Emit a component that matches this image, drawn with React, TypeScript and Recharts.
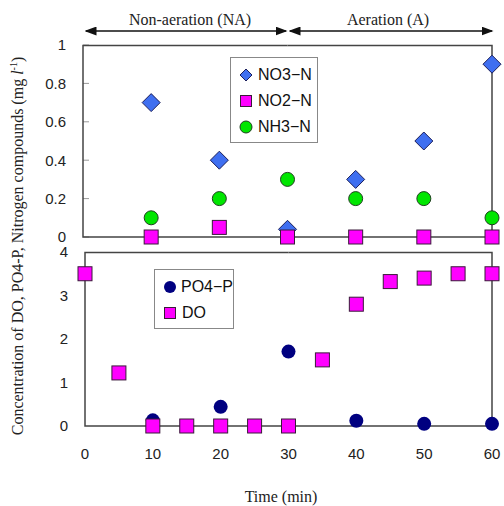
import { ScatterChart, Scatter, XAxis, YAxis } from "recharts"

const times = [10, 20, 30, 40, 50, 60]
const no3 = [0.7, 0.4, 0.04, 0.3, 0.5, 0.9]
const no2 = [0, 0.05, 0, 0, 0, 0]
const nh3 = [0.1, 0.2, 0.3, 0.2, 0.2, 0.1]
const po4 = [0.13, 0.44, 1.71, 0.12, 0.05, 0.05]
const doTimes = [0, 5, 10, 15, 20, 25, 30, 35, 40, 45, 50, 55, 60]
const doVals = [3.5, 1.22, 0, 0, 0, 0, 0, 1.52, 2.8, 3.32, 3.4, 3.5, 3.5]

const xTicks = [0, 10, 20, 30, 40, 50, 60]
const topTicks = [0, 0.2, 0.4, 0.6, 0.8, 1]
const bottomTicks = [0, 1, 2, 3, 4]

const toPts = (xs: number[], ys: number[]) => xs.map((x, i) => ({ x, y: ys[i] }))
const no3Data = toPts(times, no3)
const no2Data = toPts(times, no2)
const nh3Data = toPts(times, nh3)
const po4Data = toPts(times, po4)
const doData = toPts(doTimes, doVals)

// half of the plot frame, open at the middle; drawn once on the normal x axis and once on a reversed one
const halfBox = (xMid: number, yMax: number) => {
  const t = yMax * 0.997
  return [
    { x: xMid, y: 0 },
    { x: 0, y: 0 },
    { x: 0, y: t },
    { x: xMid, y: t },
  ]
}

const SANS = '"Liberation Sans", Arial, sans-serif'
const SERIF = '"Liberation Serif", "Times New Roman", serif'
const tickStyle = { fontSize: 15, fill: "#222", fontFamily: SANS }
const frame = { stroke: "#444", strokeWidth: 1.5 }

const Diamond = ({ cx, cy }: any) => (
  <path d={`M${cx},${cy - 9} L${cx + 9},${cy} L${cx},${cy + 9} L${cx - 9},${cy} Z`} fill="#3f6ff0" stroke="#1b1f5c" strokeWidth={1} />
)
const Square = ({ cx, cy }: any) => (
  <rect x={cx - 7} y={cy - 7} width={14} height={14} fill="#ff00ff" stroke="#3a1a3a" strokeWidth={1} />
)
const GreenDot = ({ cx, cy }: any) => <circle cx={cx} cy={cy} r={7} fill="#00e600" stroke="#1f3f1f" strokeWidth={1} />
const NavyDot = ({ cx, cy }: any) => <circle cx={cx} cy={cy} r={7} fill="#000080" />
const NoShape = () => <g />

const LegendBox = ({ items, w, left, top }: { items: { name: string; icon: any }[]; w: number; left: number; top: number }) => (
  <div
    style={{
      position: "absolute",
      left,
      top,
      border: "1px solid #888",
      background: "#fff",
      width: w,
      padding: "4px 0 2px 6px",
      fontFamily: SANS,
      fontSize: 16,
      color: "#111",
    }}
  >
    {items.map((it) => (
      <div key={it.name} style={{ display: "flex", alignItems: "center", height: 26 }}>
        <svg width={18} height={18} style={{ marginRight: 3 }}>
          {it.icon}
        </svg>
        <span>{it.name}</span>
      </div>
    ))}
  </div>
)

const topItems = [
  { name: "NO3−N", icon: <path d="M9,3 L15,9 L9,15 L3,9 Z" fill="#3f6ff0" stroke="#1b1f5c" /> },
  { name: "NO2−N", icon: <rect x={3.5} y={3.5} width={11} height={11} fill="#ff00ff" stroke="#3a1a3a" /> },
  { name: "NH3−N", icon: <circle cx={9} cy={9} r={6} fill="#00e600" stroke="#1f3f1f" /> },
]
const bottomItems = [
  { name: "PO4−P", icon: <circle cx={9} cy={9} r={6} fill="#000080" /> },
  { name: "DO", icon: <rect x={3.5} y={3.5} width={11} height={11} fill="#ff00ff" stroke="#3a1a3a" /> },
]

export default function App() {
  return (
    <div style={{ position: "absolute", left: 0, top: 0, width: 504, height: 506, background: "#fff" }}>
      <svg width={504} height={506} style={{ position: "absolute", left: 0, top: 0, pointerEvents: "none" }}>
        <defs>
          <marker id="ah" markerWidth={8} markerHeight={6} refX={7} refY={3} orient="auto-start-reverse">
            <path d="M0,0 L8,3 L0,6 Z" fill="#111" />
          </marker>
        </defs>
        <line x1={86} y1={31} x2={286} y2={31} stroke="#111" strokeWidth={1.5} markerStart="url(#ah)" markerEnd="url(#ah)" />
        <line x1={290} y1={31} x2={492} y2={31} stroke="#111" strokeWidth={1.5} markerStart="url(#ah)" markerEnd="url(#ah)" />
        <text x={190} y={25} textAnchor="middle" fontFamily={SERIF} fontSize={16} fill="#222">
          Non-aeration (NA)
        </text>
        <text x={388} y={25} textAnchor="middle" fontFamily={SERIF} fontSize={16} fill="#222">
          Aeration (A)
        </text>
        <text x={281} y={502} textAnchor="middle" fontFamily={SERIF} fontSize={16} fill="#222">
          Time (min)
        </text>
        <text transform="translate(23,246) rotate(-90)" textAnchor="middle" fontFamily={SERIF} fontSize={16} fill="#222">
          Concentration of DO, PO4-P, Nitrogen compounds (mg <tspan fontStyle="italic">l</tspan>
          <tspan fontSize={10} dy={-6}>-1</tspan>
          <tspan dy={6}>)</tspan>
        </text>
      </svg>
      <div style={{ position: "absolute", left: 0, top: 0 }}>
        <ScatterChart width={504} height={252} margin={{ top: 45, right: 12, bottom: 15, left: 0 }}>
          <XAxis type="number" dataKey="x" domain={[0, 60]} ticks={xTicks} height={0} tick={false} tickLine={false} axisLine={false} />
          <XAxis xAxisId="rev" type="number" dataKey="x" domain={[0, 60]} reversed hide />
          <YAxis
            type="number"
            dataKey="y"
            domain={[0, 1]}
            ticks={topTicks}
            interval={0}
            width={83}
            axisLine={false}
            tickSize={-6}
            tickMargin={23}
            tickLine={{ stroke: "#999" }}
            tick={tickStyle}
          />
          <Scatter name="frameL" data={halfBox(30, 1)} line={frame} shape={NoShape} legendType="none" isAnimationActive={false} />
          <Scatter name="frameR" xAxisId="rev" data={halfBox(30, 1)} line={frame} shape={NoShape} legendType="none" isAnimationActive={false} />
          <Scatter name="NO3-N" data={no3Data} shape={Diamond} isAnimationActive={false} />
          <Scatter name="NO2-N" data={no2Data} shape={Square} isAnimationActive={false} />
          <Scatter name="NH3-N" data={nh3Data} shape={GreenDot} isAnimationActive={false} />
        </ScatterChart>
      </div>
      <div style={{ position: "absolute", left: 0, top: 240 }}>
        <ScatterChart width={504} height={230} margin={{ top: 12, right: 12, bottom: 0, left: 0 }}>
          <XAxis
            type="number"
            dataKey="x"
            domain={[0, 60]}
            ticks={xTicks}
            interval={0}
            height={44}
            axisLine={false}
            tickLine={false}
            tickSize={0}
            tickMargin={22}
            tick={tickStyle}
          />
          <XAxis xAxisId="rev" type="number" dataKey="x" domain={[0, 60]} reversed hide />
          <YAxis
            type="number"
            dataKey="y"
            domain={[0, 4]}
            ticks={bottomTicks}
            interval={0}
            width={85}
            axisLine={false}
            tickLine={false}
            tickSize={0}
            tickMargin={17}
            tick={tickStyle}
          />
          <Scatter name="frameL" data={halfBox(30, 4)} line={frame} shape={NoShape} legendType="none" isAnimationActive={false} />
          <Scatter name="frameR" xAxisId="rev" data={halfBox(30, 4)} line={frame} shape={NoShape} legendType="none" isAnimationActive={false} />
          <Scatter name="PO4-P" data={po4Data} shape={NavyDot} isAnimationActive={false} />
          <Scatter name="DO" data={doData} shape={Square} isAnimationActive={false} />
        </ScatterChart>
      </div>
      <LegendBox items={topItems} w={80} left={230} top={57} />
      <LegendBox items={bottomItems} w={72} left={154} top={269} />
    </div>
  )
}
